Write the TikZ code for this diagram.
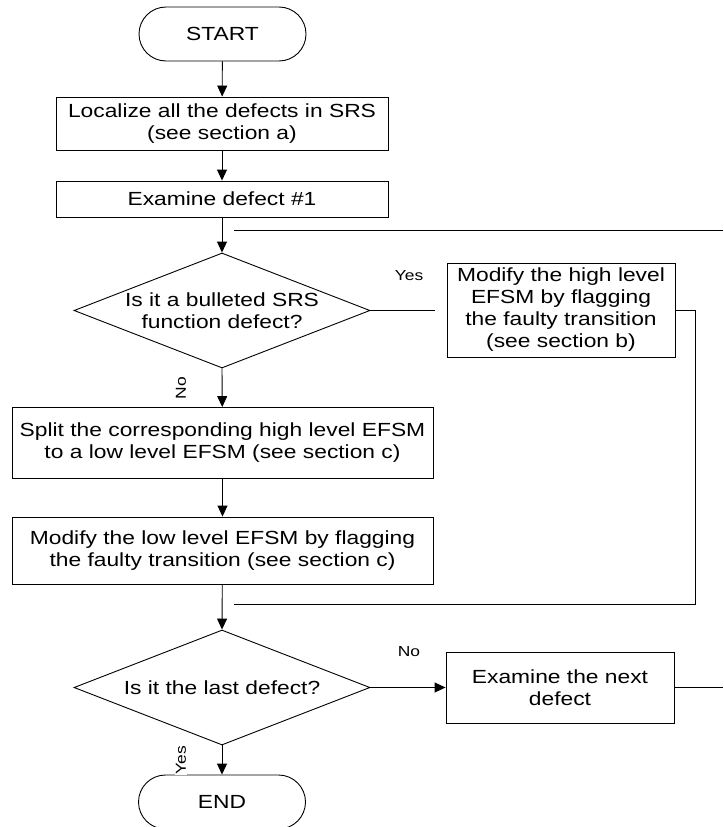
\documentclass[tikz,border=0pt]{standalone}
\usepackage{fontspec}
\setmainfont{Liberation Sans}[FakeStretch=1.2]
\usetikzlibrary{shapes.geometric,arrows.meta}
\tikzset{
  base/.style={draw=black, line width=0.9pt, font=\fontsize{19pt}{22pt}\selectfont, align=center, inner sep=0pt},
  term/.style={base, rectangle, rounded corners=27pt, minimum width=167pt, minimum height=54pt},
  procbox/.style={base, rectangle},
  decision/.style={draw=black, line width=0.9pt, shape=diamond, inner sep=0pt, minimum width=296pt, minimum height=115pt},
  dtext/.style={font=\fontsize{19pt}{22pt}\selectfont, align=center, inner sep=0pt},
  conn/.style={draw=black, line width=0.9pt},
  arr/.style={conn, -{Triangle[length=11pt,width=10pt]}},
  lbl/.style={font=\fontsize{14.5pt}{16pt}\selectfont, inner sep=1pt}
}
\begin{document}
\begin{tikzpicture}[x=1pt,y=-1pt]
\useasboundingbox (0,0) rectangle (723,827);
\fill[white] (0,0) rectangle (723,827);

\node[term] (start) at (222.5,34) {START};
\node[procbox, minimum width=332pt, minimum height=53pt] (b1) at (222,123.5) {Localize all the defects in SRS\\(see section a)};
\node[procbox, minimum width=332pt, minimum height=36pt] (b2) at (222,199) {Examine defect \#1};
\node[decision] (d1) at (222,310.5) {};
\node[dtext] (d1t) at (222,310.5) {Is it a bulleted SRS\\function defect?};
\node[procbox, minimum width=228pt, minimum height=94pt] (bb) at (561,310) {Modify the high level\\EFSM by flagging\\the faulty transition\\(see section b)};
\node[procbox, minimum width=421pt, minimum height=71pt] (b3) at (222.5,443) {Split the corresponding high level EFSM\\to a low level EFSM (see section c)};
\node[procbox, minimum width=421pt, minimum height=67pt] (b4) at (222.5,550.5) {Modify the low level EFSM by flagging\\the faulty transition (see section c)};
\node[decision] (d2) at (222,687.5) {};
\node[dtext] (d2t) at (222,687.5) {Is it the last defect?};
\node[procbox, minimum width=228pt, minimum height=71pt] (nx) at (560,687.5) {Examine the next\\defect};
\node[term] (en) at (222,802) {END};

\coordinate (t1) at (234,230);
\coordinate (t2) at (723,230);
\coordinate (ye) at (435,310.5);
\coordinate (r1) at (695,310);
\coordinate (r2) at (695,604);
\coordinate (r3) at (234,604);
\coordinate (ne) at (723,687.5);

\draw[arr] (start) -- (b1);
\draw[arr] (b1) -- (b2);
\draw[arr] (b2) -- (d1.north);
\draw[conn] (t1) -- (t2);
\draw[conn] (d1.east) -- (ye);
\draw[arr] (d1.south) -- (b3);
\draw[arr] (b3) -- (b4);
\draw[arr] (b4) -- (d2.north);
\draw[conn] (bb.east) -- (r1) -- (r2) -- (r3);
\draw[arr] (d2.east) -- (nx.west);
\draw[conn] (nx.east) -- (ne);
\draw[arr] (d2.south) -- (en.north);

\node[lbl] (yes1) at (409,276) {Yes};
\node[lbl, rotate=90] (no1) at (181,388) {No};
\node[lbl] (no2) at (409,652) {No};
\node[lbl, rotate=90, fill=white] (yes2) at (181,760) {Yes};
\end{tikzpicture}
\end{document}
